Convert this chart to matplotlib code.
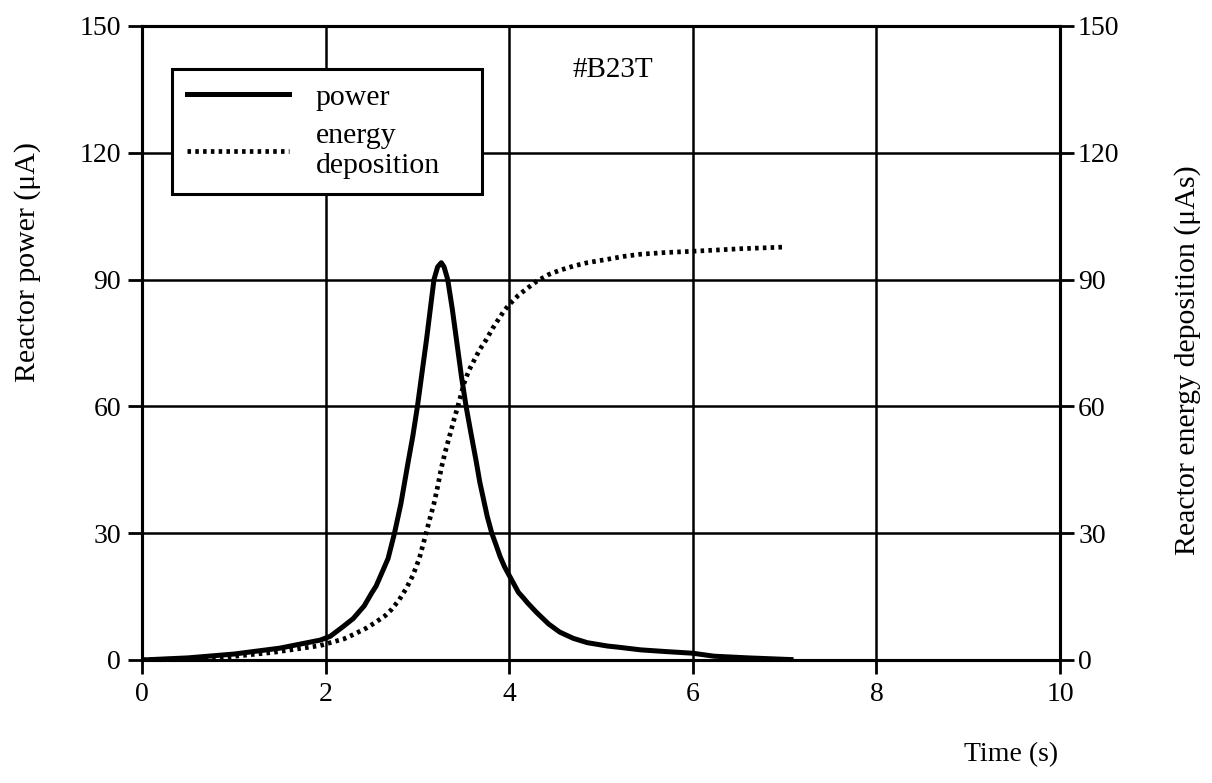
import numpy as np
import matplotlib
matplotlib.use('Agg')
import matplotlib.pyplot as plt

plt.rcParams['font.family'] = ['Liberation Serif', 'DejaVu Serif']

# 读取自图片的数据
power_t = [0.0, 0.5, 1.0, 1.5, 1.94, 2.05, 2.19, 2.3, 2.42, 2.5, 2.55, 2.68,
           2.75, 2.82, 2.9, 2.95, 3.0, 3.05, 3.1, 3.14, 3.18, 3.22, 3.26,
           3.29, 3.33, 3.38, 3.43, 3.48, 3.53, 3.58, 3.64, 3.68, 3.72, 3.76,
           3.81, 3.86, 3.9, 3.95, 4.0, 4.05, 4.1, 4.15, 4.2, 4.3, 4.43, 4.55,
           4.7, 4.85, 5.07, 5.2, 5.43, 5.7, 6.0, 6.23, 6.6, 7.07]
power_val = [0.0, 0.5, 1.4, 2.8, 4.7, 5.6, 7.9, 9.8, 12.8, 15.8, 17.5, 24.0,
             30.0, 37.0, 47.0, 53.0, 60.0, 68.0, 76.0, 83.0, 90.0, 93.0, 94.0,
             93.0, 90.0, 83.0, 75.0, 67.0, 60.0, 54.0, 47.0, 42.0, 38.0, 34.0,
             30.0, 27.0, 24.5, 22.0, 20.0, 18.0, 16.0, 14.8, 13.5, 11.2, 8.5,
             6.6, 5.1, 4.1, 3.3, 3.0, 2.4, 2.0, 1.6, 0.9, 0.5, 0.1]

energy_t = [0.0, 0.5, 0.88, 1.43, 1.94, 2.1, 2.2, 2.3, 2.44, 2.55, 2.65, 2.72,
            2.8, 2.88, 2.95, 3.02, 3.08, 3.13, 3.18, 3.22, 3.26, 3.3, 3.35,
            3.4, 3.44, 3.51, 3.56, 3.62, 3.68, 3.75, 3.82, 3.88, 3.94, 4.0,
            4.1, 4.2, 4.3, 4.43, 4.55, 4.7, 4.85, 5.07, 5.25, 5.43, 5.7, 6.0,
            6.52, 7.0]
energy_val = [0.0, 0.3, 0.6, 1.8, 3.4, 4.4, 5.0, 6.0, 7.5, 9.0, 10.5, 12.0,
              14.2, 17.0, 20.0, 24.0, 28.8, 33.0, 37.0, 41.0, 45.4, 49.0, 53.0,
              57.0, 60.0, 65.6, 68.5, 71.0, 73.5, 75.8, 78.5, 80.5, 82.5, 84.1,
              86.3, 88.0, 89.6, 91.2, 92.2, 93.2, 94.0, 94.8, 95.5, 96.0, 96.4,
              96.7, 97.3, 97.7]

x_ticks = [0, 2, 4, 6, 8, 10]
y_ticks = [0, 30, 60, 90, 120, 150]

TICK_FS = 20
LABEL_FS = 21.5


def main():
    fig = plt.figure(figsize=(12.12, 7.83), dpi=100)
    ax = fig.add_axes([0.1172, 0.1571, 0.7574, 0.8097])
    ax2 = ax.twinx()

    ln1, = ax.plot(power_t, power_val, color='black', lw=3.6,
                   solid_joinstyle='round')
    ln2, = ax2.plot(energy_t, energy_val, color='black', lw=3.4,
                    linestyle=(0, (0.75, 0.9)))

    for a in (ax, ax2):
        a.set_xlim(0, 10)
        a.set_ylim(0, 150)
        a.set_yticks(y_ticks)
        for s in a.spines.values():
            s.set_linewidth(2.2)
    ax.set_xticks(x_ticks)

    ax.grid(True, color='black', lw=1.8)
    ax.set_axisbelow(True)

    ax.tick_params(axis='both', direction='out', length=10, width=2.0,
                   labelsize=TICK_FS, pad=5)
    ax.tick_params(axis='x', pad=6)
    ax2.tick_params(axis='y', direction='out', length=10, width=2.0,
                    labelsize=TICK_FS, pad=3)

    # 图例框：左上角约 (172, 69) px，宽约 310 px
    leg = ax.legend([ln1, ln2], ['power', 'energy\ndeposition'],
                    loc='upper left', bbox_to_anchor=(0.0327, 0.0, 0.3377, 0.932),
                    mode='expand', fontsize=LABEL_FS, frameon=True,
                    fancybox=False, handlelength=3.4, handletextpad=0.9,
                    borderpad=0.5, borderaxespad=0.0, labelspacing=0.42)
    leg.get_frame().set_edgecolor('black')
    leg.get_frame().set_linewidth(2.2)
    leg.get_frame().set_alpha(1.0)

    ax.text(0.469, 0.93, '#B23T', transform=ax.transAxes, fontsize=TICK_FS + 1,
            ha='left', va='center')

    fig.text(0.023, 1 - 262 / 783, 'Reactor power (μA)', rotation=90,
             ha='center', va='center', fontsize=LABEL_FS)
    fig.text(0.98, 1 - 360 / 783, 'Reactor energy deposition (μAs)',
             rotation=90, ha='center', va='center', fontsize=LABEL_FS)
    fig.text(1058 / 1212, 1 - 755 / 783, 'Time (s)', ha='right',
             va='center', fontsize=TICK_FS)

    fig.savefig('out.png', dpi=100)


if __name__ == '__main__':
    main()
